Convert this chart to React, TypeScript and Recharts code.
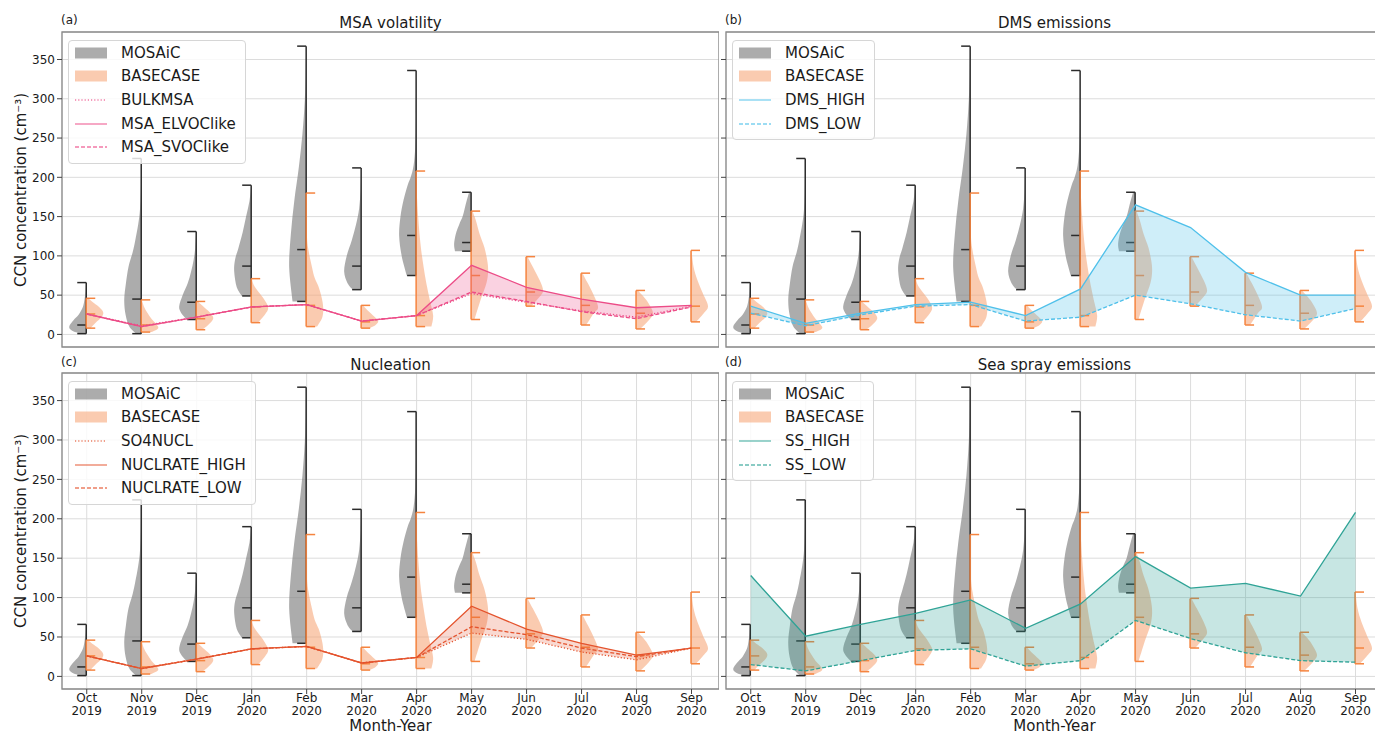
import React from 'react'
import {
  ComposedChart,
  Bar,
  Area,
  Line,
  XAxis,
  YAxis,
  CartesianGrid,
  ReferenceArea
} from 'recharts'

const FONT = '"DejaVu Sans", Verdana, sans-serif'

const months = [
  'Oct 2019', 'Nov 2019', 'Dec 2019', 'Jan 2020', 'Feb 2020', 'Mar 2020',
  'Apr 2020', 'May 2020', 'Jun 2020', 'Jul 2020', 'Aug 2020', 'Sep 2020'
]
const monthTicks = [0, 1, 2, 3, 4, 5, 6, 7, 8, 9, 10, 11]
const yTicks = [0, 50, 100, 150, 200, 250, 300, 350]

// MOSAiC observations, Oct–May only
const mosaicMin = [1, 1, 19, 49, 42, 57, 75, 106]
const mosaicMedian = [12, 45, 41, 87, 108, 87, 126, 117]
const mosaicMax = [66, 224, 131, 190, 367, 212, 336, 181]
// violin outline: [value, relative half-width]
const mosaicShape = [
  [[1, 0.35], [5, 0.85], [10, 1], [18, 0.75], [25, 0.45], [35, 0.2], [45, 0.1], [55, 0.04], [66, 0.01]],
  [[1, 0.3], [10, 0.7], [25, 0.92], [44, 1], [65, 0.9], [86, 0.75], [105, 0.5], [120, 0.35], [140, 0.18], [160, 0.07], [190, 0.02], [224, 0]],
  [[19, 0.55], [28, 0.9], [36, 1], [50, 0.8], [65, 0.5], [80, 0.3], [95, 0.15], [110, 0.06], [131, 0]],
  [[49, 0.55], [60, 0.85], [80, 1], [95, 0.95], [110, 0.75], [130, 0.5], [150, 0.3], [170, 0.1], [190, 0]],
  [[42, 0.8], [86, 1], [128, 0.9], [170, 0.7], [213, 0.43], [255, 0.22], [298, 0.08], [330, 0.03], [367, 0]],
  [[57, 0.5], [65, 0.8], [80, 1], [100, 0.85], [120, 0.55], [140, 0.3], [160, 0.12], [185, 0.03], [212, 0]],
  [[75, 0.55], [100, 0.85], [126, 1], [150, 0.92], [171, 0.74], [190, 0.5], [200, 0.32], [215, 0.15], [240, 0.05], [280, 0.01], [336, 0]],
  [[106, 0.95], [115, 1], [128, 0.9], [140, 0.7], [150, 0.5], [160, 0.38], [171, 0.25], [181, 0.12]]
]

// BASECASE model
const basecaseMin = [8, 3, 6, 15, 10, 8, 10, 19, 36, 12, 7, 16]
const basecaseMedian = [26, 12, 20, 35, 37, 16, 24, 75, 54, 37, 27, 36]
const basecaseMax = [46, 44, 42, 71, 180, 37, 208, 157, 99, 78, 56, 107]
const basecaseShape = [
  [[8, 0.25], [15, 0.55], [22, 0.9], [28, 1], [34, 0.8], [40, 0.45], [46, 0.1]],
  [[3, 0.6], [8, 1], [14, 0.85], [20, 0.6], [28, 0.35], [36, 0.15], [44, 0.03]],
  [[6, 0.35], [12, 0.7], [20, 1], [27, 0.85], [34, 0.5], [42, 0.1]],
  [[15, 0.4], [25, 0.8], [34, 1], [45, 0.75], [55, 0.4], [63, 0.15], [71, 0.04]],
  [[10, 0.64], [22, 0.95], [35, 1], [48, 0.9], [60, 0.74], [72, 0.5], [86, 0.34], [107, 0.14], [128, 0.04], [180, 0]],
  [[8, 0.5], [12, 0.85], [17, 1], [24, 0.7], [30, 0.4], [37, 0.1]],
  [[10, 0.9], [24, 1], [44, 0.8], [65, 0.6], [86, 0.44], [107, 0.3], [128, 0.2], [150, 0.12], [171, 0.06], [208, 0]],
  [[19, 0.2], [44, 0.56], [65, 0.9], [80, 1], [94, 0.95], [111, 0.78], [128, 0.5], [145, 0.28], [157, 0.08]],
  [[36, 0.3], [48, 0.8], [56, 1], [69, 0.8], [86, 0.4], [99, 0.08]],
  [[12, 0.3], [27, 0.75], [35, 1], [52, 0.7], [65, 0.4], [78, 0.08]],
  [[7, 0.25], [18, 0.75], [27, 1], [39, 0.75], [48, 0.45], [56, 0.1]],
  [[16, 0.3], [27, 0.75], [36, 1], [52, 0.7], [69, 0.38], [86, 0.15], [107, 0.03]]
]

// sensitivity runs
const bulkMsa = [26, 11, 22, 35, 38, 17, 24, 52, 41, 30, 22, 36]
const msaElvoc = [26, 10, 22, 35, 38, 17, 24, 88, 60, 45, 34, 37]
const msaSvoc = [26, 10, 22, 35, 38, 17, 24, 54, 42, 29, 20, 35]

const dmsHigh = [36, 14, 27, 38, 41, 24, 58, 165, 136, 79, 50, 50]
const dmsLow = [27, 11, 25, 36, 38, 17, 22, 50, 39, 25, 17, 33]

const so4Nucl = [26, 10, 22, 35, 38, 17, 24, 55, 47, 31, 21, 36]
const nuclHigh = [26, 10, 22, 35, 38, 17, 24, 89, 60, 42, 27, 36]
const nuclLow = [26, 10, 22, 35, 38, 17, 24, 63, 53, 36, 25, 36]

const ssHigh = [128, 51, 66, 80, 97, 61, 92, 152, 112, 118, 102, 208]
const ssLow = [15, 7, 20, 33, 35, 13, 20, 71, 48, 30, 20, 18]

const GRAY_FILL = '#808080'
const ORANGE_FILL = '#f5a070'
const GRAY_LINE = '#2b2b2b'
const ORANGE_LINE = '#f5843f'
const HALF = 17
const CAP = 9
const X_DOMAIN = [-0.45, 11.5]
const Y_DOMAIN = [-16, 385]

const panels = [
  {
    tag: '(a)', title: 'MSA volatility', color: '#ec4c87', fillOpacity: 0.25,
    left: 0, top: 0, labels: true, bottom: false,
    series: [
      { name: 'BULKMSA', values: bulkMsa, dash: '1.2 2' },
      { name: 'MSA_ELVOClike', values: msaElvoc, dash: undefined },
      { name: 'MSA_SVOClike', values: msaSvoc, dash: '4 2' }
    ]
  },
  {
    tag: '(b)', title: 'DMS emissions', color: '#4fc0ea', fillOpacity: 0.27,
    left: 720, top: 0, labels: false, bottom: false,
    series: [
      { name: 'DMS_HIGH', values: dmsHigh, dash: undefined },
      { name: 'DMS_LOW', values: dmsLow, dash: '4 2' }
    ]
  },
  {
    tag: '(c)', title: 'Nucleation', color: '#e4532d', fillOpacity: 0.22,
    left: 0, top: 341, labels: true, bottom: true,
    series: [
      { name: 'SO4NUCL', values: so4Nucl, dash: '1.2 2' },
      { name: 'NUCLRATE_HIGH', values: nuclHigh, dash: undefined },
      { name: 'NUCLRATE_LOW', values: nuclLow, dash: '4 2' }
    ]
  },
  {
    tag: '(d)', title: 'Sea spray emissions', color: '#2fa396', fillOpacity: 0.27,
    left: 720, top: 341, labels: false, bottom: true,
    series: [
      { name: 'SS_HIGH', values: ssHigh, dash: undefined },
      { name: 'SS_LOW', values: ssLow, dash: '4 2' }
    ]
  }
]

function smooth(pts: number[][]) {
  let d = ''
  for (let i = 0; i < pts.length - 1; i++) {
    const p0 = pts[i - 1] || pts[i]
    const p1 = pts[i]
    const p2 = pts[i + 1]
    const p3 = pts[i + 2] || p2
    const c1x = p1[0] + (p2[0] - p0[0]) / 6
    const c1y = p1[1] + (p2[1] - p0[1]) / 6
    const c2x = p2[0] - (p3[0] - p1[0]) / 6
    const c2y = p2[1] - (p3[1] - p1[1]) / 6
    d += ` C${c1x},${c1y} ${c2x},${c2y} ${p2[0]},${p2[1]}`
  }
  return d
}

function halfViolin(shape: number[][], cx: number, side: number, py: (v: number) => number) {
  const pts = shape.map(([v, w]) => [cx + side * w * HALF, py(v)])
  const first = shape[0][0]
  const last = shape[shape.length - 1][0]
  return `M${cx},${py(first)} L${pts[0][0]},${pts[0][1]}${smooth(pts)} L${cx},${py(last)} Z`
}

function Whisker({ cx, side, py, lo, med, hi, color }: any) {
  return (
    <g stroke={color} strokeWidth={1.5} fill="none">
      <line x1={cx} x2={cx} y1={py(lo)} y2={py(hi)} />
      <line x1={cx} x2={cx + side * CAP} y1={py(lo)} y2={py(lo)} />
      <line x1={cx} x2={cx + side * CAP} y1={py(hi)} y2={py(hi)} />
      <line x1={cx} x2={cx + side * CAP} y1={py(med)} y2={py(med)} />
    </g>
  )
}

function ViolinPair(props: any) {
  const { x, y, width, height, payload } = props
  const i = payload.idx
  const [lo, hi] = payload.span
  const top = Math.min(y, y + height)
  const bot = Math.max(y, y + height)
  const cx = x + width / 2
  const py = (v: number) => top + ((hi - v) / (hi - lo)) * (bot - top)
  const hasObs = i < mosaicMin.length
  return (
    <g>
      {hasObs && (
        <path d={halfViolin(mosaicShape[i], cx, -1, py)} fill={GRAY_FILL} fillOpacity={0.65} stroke="none" />
      )}
      <path d={halfViolin(basecaseShape[i], cx, 1, py)} fill={ORANGE_FILL} fillOpacity={0.55} stroke="none" />
      {hasObs && (
        <Whisker cx={cx} side={-1} py={py} lo={mosaicMin[i]} med={mosaicMedian[i]} hi={mosaicMax[i]} color={GRAY_LINE} />
      )}
      <Whisker cx={cx} side={1} py={py} lo={basecaseMin[i]} med={basecaseMedian[i]} hi={basecaseMax[i]} color={ORANGE_LINE} />
    </g>
  )
}

function MonthTick(props: any) {
  const { x, y, payload } = props
  const [m, yr] = months[payload.value].split(' ')
  return (
    <text x={x} y={y} textAnchor="middle" fontSize={12} fill="#1a1a1a" fontFamily={FONT}>
      <tspan x={x} dy={7}>{m}</tspan>
      <tspan x={x} dy={13}>{yr}</tspan>
    </text>
  )
}

function LegendBox({ p, left, top }: any) {
  const items = [
    { name: 'MOSAiC', patch: true, color: GRAY_FILL, opacity: 0.65, dash: undefined },
    { name: 'BASECASE', patch: true, color: ORANGE_FILL, opacity: 0.55, dash: undefined },
    ...p.series.map((s: any) => ({ name: s.name, patch: false, color: p.color, opacity: 0.75, dash: s.dash }))
  ]
  return (
    <div
      style={{
        position: 'absolute', left, top, background: 'rgba(255,255,255,0.82)',
        border: '1px solid #d6d6d6', borderRadius: 4, padding: '0 9px 4px 6px', zIndex: 2
      }}
    >
      {items.map((it) => (
        <div key={it.name} style={{ display: 'flex', alignItems: 'center', height: 23.6 }}>
          <svg width={32} height={12}>
            {it.patch ? (
              <rect x={0} y={0.5} width={32} height={11} fill={it.color} fillOpacity={it.opacity} />
            ) : (
              <line x1={0} x2={32} y1={6} y2={6} stroke={it.color} strokeOpacity={it.opacity} strokeWidth={1.3} strokeDasharray={it.dash} />
            )}
          </svg>
          <span style={{ marginLeft: 14, fontSize: 15, color: '#1a1a1a', whiteSpace: 'nowrap' }}>{it.name}</span>
        </div>
      ))}
    </div>
  )
}

function Panel({ p }: any) {
  const width = p.labels ? 719 : 663
  const height = p.bottom ? 393 : 360
  const plotLeft = p.labels ? 62 : 6
  const plotTop = 32
  const plotW = 657
  const plotH = p.bottom ? 316 : 315

  const data = months.map((m, i) => {
    const vals = p.series.map((s: any) => s.values[i])
    const lo = i < mosaicMin.length ? Math.min(mosaicMin[i], basecaseMin[i]) : basecaseMin[i]
    const hi = i < mosaicMax.length ? Math.max(mosaicMax[i], basecaseMax[i]) : basecaseMax[i]
    const row: any = { idx: i, month: m, span: [lo, hi], band: [Math.min(...vals), Math.max(...vals)] }
    p.series.forEach((s: any, k: number) => { row['s' + k] = s.values[i] })
    return row
  })

  return (
    <div style={{ position: 'absolute', left: p.left, top: p.top, width, height }}>
      <div
        style={{
          position: 'absolute', left: plotLeft - 1, top: 20 + (p.bottom ? 1 : 0), fontSize: 12,
          transform: 'translateY(-50%)', color: '#1a1a1a'
        }}
      >
        {p.tag}
      </div>
      <div
        style={{
          position: 'absolute', left: plotLeft + plotW / 2, top: 23 + (p.bottom ? 1 : 0), fontSize: 15,
          transform: 'translate(-50%,-50%)', whiteSpace: 'nowrap', color: '#1a1a1a'
        }}
      >
        {p.title}
      </div>
      {p.labels && (
        <div
          style={{
            position: 'absolute', left: 21, top: plotTop + plotH / 2, fontSize: 15, whiteSpace: 'nowrap',
            transform: 'translate(-50%,-50%) rotate(-90deg)', color: '#1a1a1a'
          }}
        >
          CCN concentration (cm⁻³)
        </div>
      )}
      {p.bottom && (
        <div
          style={{
            position: 'absolute', left: plotLeft + plotW / 2, top: 378, fontSize: 15, lineHeight: '14px',
            whiteSpace: 'nowrap', transform: 'translateX(-50%)', color: '#1a1a1a'
          }}
        >
          Month-Year
        </div>
      )}
      <LegendBox p={p} left={plotLeft + 6} top={plotTop + 8} />
      <ComposedChart
        width={width}
        height={height}
        data={data}
        margin={{ top: plotTop, right: 0, bottom: 0, left: p.labels ? 17 : 0 }}
        style={{ fontFamily: FONT }}
      >
        <CartesianGrid stroke="#dcdcdc" strokeWidth={1} />
        <XAxis
          type="number"
          dataKey="idx"
          domain={X_DOMAIN}
          ticks={monthTicks}
          interval={0}
          allowDataOverflow
          height={p.bottom ? 45 : 13}
          tickSize={5}
          tickMargin={1}
          axisLine={false}
          tickLine={{ stroke: '#444' }}
          tick={p.bottom ? <MonthTick /> : false}
        />
        <YAxis
          type="number"
          domain={Y_DOMAIN}
          ticks={yTicks}
          allowDataOverflow
          width={p.labels ? 45 : 6}
          tickSize={5}
          tickMargin={2}
          axisLine={false}
          tickLine={{ stroke: '#444' }}
          tick={{ fontSize: 12, fill: '#1a1a1a' }}
          tickFormatter={(v: number) => (p.labels ? String(v) : '')}
        />
        <Bar
          dataKey="span"
          barSize={HALF * 2}
          shape={(props: any) => <ViolinPair {...props} />}
          isAnimationActive={false}
          zIndex={50}
        />
        <Area
          type="linear"
          dataKey="band"
          stroke="none"
          fill={p.color}
          fillOpacity={p.fillOpacity}
          isAnimationActive={false}
          zIndex={350}
        />
        {p.series.map((s: any, k: number) => (
          <Line
            key={s.name}
            type="linear"
            dataKey={'s' + k}
            stroke={p.color}
            strokeWidth={1.3}
            strokeDasharray={s.dash}
            dot={false}
            activeDot={false}
            isAnimationActive={false}
            zIndex={400}
          />
        ))}
        <ReferenceArea
          x1={X_DOMAIN[0]}
          x2={X_DOMAIN[1]}
          y1={Y_DOMAIN[0]}
          y2={Y_DOMAIN[1]}
          fill="none"
          stroke="#8a8a8a"
          strokeWidth={1.3}
          ifOverflow="visible"
        />
      </ComposedChart>
    </div>
  )
}

export default function App() {
  return (
    <div
      style={{
        position: 'relative', width: 1375, height: 734, overflow: 'hidden',
        background: '#fff', fontFamily: FONT
      }}
    >
      <style>{'body{margin:0}'}</style>
      {panels.map((p) => (
        <Panel key={p.tag} p={p} />
      ))}
    </div>
  )
}
